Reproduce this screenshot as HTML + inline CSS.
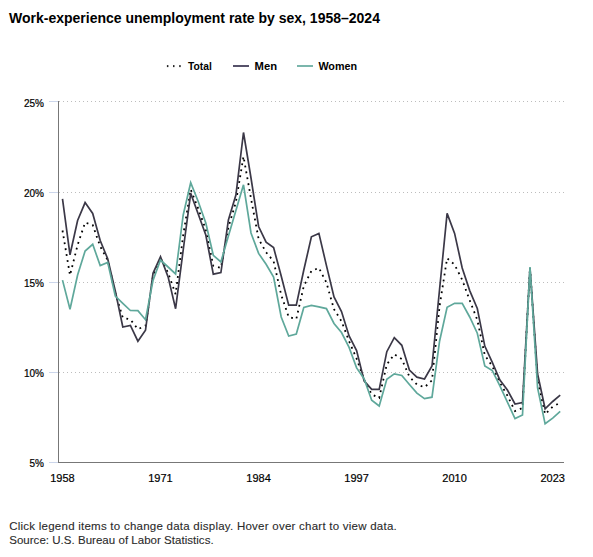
<!DOCTYPE html>
<html><head><meta charset="utf-8"><style>
html,body{margin:0;padding:0;background:#fff;width:593px;height:557px;overflow:hidden}
svg{position:absolute;left:0;top:0}
text{font-family:"Liberation Sans",sans-serif}
.yl{font-size:10px;fill:#000;stroke:#000;stroke-width:0.2}
.xl{font-size:11px;fill:#000;stroke:#000;stroke-width:0.2}
.lg{font-size:11px;font-weight:bold;fill:#000}
.ft{font-size:11.5px;fill:#2a2a2a;stroke:#2a2a2a;stroke-width:0.1}
</style></head><body>
<svg width="593" height="557" viewBox="0 0 593 557">
<text x="9" y="23" style="font-size:14px;font-weight:bold" fill="#000">Work-experience unemployment rate by sex, 1958–2024</text>
<rect x="166.9" y="65.1" width="1.5" height="2" fill="#222"/><rect x="173" y="65.1" width="1.5" height="2" fill="#222"/><rect x="179.2" y="65.1" width="1.5" height="2" fill="#222"/>
<text x="188" y="70" class="lg" textLength="23.8" lengthAdjust="spacingAndGlyphs">Total</text>
<line x1="233" y1="66" x2="249" y2="66" stroke="#56526a" stroke-width="2"/>
<text x="254.6" y="70" class="lg" textLength="22.5" lengthAdjust="spacingAndGlyphs">Men</text>
<line x1="297" y1="66" x2="313" y2="66" stroke="#7bb6ac" stroke-width="2"/>
<text x="318.4" y="70" class="lg" textLength="38.7" lengthAdjust="spacingAndGlyphs">Women</text>
<line x1="59" y1="101.5" x2="564" y2="101.5" stroke="#bdbdbd" stroke-width="1" stroke-dasharray="1,3"/>
<line x1="49" y1="101.5" x2="58" y2="101.5" stroke="#ccd6eb" stroke-width="1"/>
<text x="44" y="106.5" text-anchor="end" class="yl">25%</text>
<line x1="59" y1="192.5" x2="564" y2="192.5" stroke="#bdbdbd" stroke-width="1" stroke-dasharray="1,3"/>
<line x1="49" y1="192.5" x2="58" y2="192.5" stroke="#ccd6eb" stroke-width="1"/>
<text x="44" y="196.5" text-anchor="end" class="yl">20%</text>
<line x1="59" y1="282.5" x2="564" y2="282.5" stroke="#bdbdbd" stroke-width="1" stroke-dasharray="1,3"/>
<line x1="49" y1="282.5" x2="58" y2="282.5" stroke="#ccd6eb" stroke-width="1"/>
<text x="44" y="286.5" text-anchor="end" class="yl">15%</text>
<line x1="59" y1="372.5" x2="564" y2="372.5" stroke="#bdbdbd" stroke-width="1" stroke-dasharray="1,3"/>
<line x1="49" y1="372.5" x2="58" y2="372.5" stroke="#ccd6eb" stroke-width="1"/>
<text x="44" y="376.5" text-anchor="end" class="yl">10%</text>
<line x1="49" y1="462.5" x2="58" y2="462.5" stroke="#ccd6eb" stroke-width="1"/>
<text x="44" y="466.5" text-anchor="end" class="yl">5%</text>

<line x1="58.5" y1="101" x2="58.5" y2="463" stroke="#777" stroke-width="1"/>
<line x1="58" y1="462.5" x2="564" y2="462.5" stroke="#777" stroke-width="1"/>
<text x="62.5" y="481.5" text-anchor="middle" class="xl">1958</text>
<text x="160.5" y="481.5" text-anchor="middle" class="xl">1971</text>
<text x="258.6" y="481.5" text-anchor="middle" class="xl">1984</text>
<text x="356.6" y="481.5" text-anchor="middle" class="xl">1997</text>
<text x="454.6" y="481.5" text-anchor="middle" class="xl">2010</text>
<text x="552.7" y="481.5" text-anchor="middle" class="xl">2023</text>

<polyline fill="none" stroke="#000" stroke-width="1.8" stroke-dasharray="1.8,4.2" points="62.5,230.5 70.0,275.3 77.6,245.0 85.1,222.5 92.7,225.0 100.2,246.4 107.7,260.2 115.3,292.9 122.8,317.8 130.4,319.5 137.9,329.1 145.5,326.0 153.0,276.2 160.5,258.1 168.1,272.8 175.6,294.1 183.2,235.1 190.7,189.5 198.2,208.6 205.8,229.7 213.3,265.8 220.9,267.9 228.4,227.2 235.9,202.1 243.5,156.5 251.0,198.5 258.6,238.9 266.1,252.3 273.6,261.2 281.2,294.9 288.7,317.0 296.3,319.0 303.8,286.0 311.4,271.0 318.9,267.9 326.4,282.6 334.0,309.2 341.5,321.2 349.1,341.2 356.6,358.6 364.1,379.8 371.7,394.4 379.2,398.0 386.8,364.4 394.3,354.3 401.8,359.1 409.4,376.7 416.9,384.5 424.5,387.3 432.0,380.4 439.6,306.0 447.1,258.2 454.6,264.7 462.2,279.8 469.7,300.3 477.3,319.9 484.8,355.2 492.3,366.2 499.9,382.7 507.4,395.6 515.0,411.0 522.5,408.0 530.0,267.5 537.6,380.4 545.1,414.2 552.7,406.6 560.2,402.8"/>
<polyline fill="none" stroke="#3b3847" stroke-width="1.7" stroke-linejoin="miter" points="62.5,198.9 70.0,254.8 77.6,220.5 85.1,202.6 92.7,213.4 100.2,240.5 107.7,258.8 115.3,291.0 122.8,327.0 130.4,325.4 137.9,341.2 145.5,330.3 153.0,273.3 160.5,256.8 168.1,276.9 175.6,308.7 183.2,250.0 190.7,193.4 198.2,214.0 205.8,235.0 213.3,274.2 220.9,272.6 228.4,220.0 235.9,195.0 243.5,132.5 251.0,178.0 258.6,226.5 266.1,242.2 273.6,247.6 281.2,276.0 288.7,305.2 296.3,305.2 303.8,270.0 311.4,236.8 318.9,233.4 326.4,265.4 334.0,297.0 341.5,311.5 349.1,336.0 356.6,350.6 364.1,380.8 371.7,389.4 379.2,389.4 386.8,351.7 394.3,337.7 401.8,345.3 409.4,370.0 416.9,377.2 424.5,379.0 432.0,366.0 439.6,289.0 447.1,213.4 454.6,233.4 462.2,267.9 469.7,290.6 477.3,308.5 484.8,346.1 492.3,362.4 499.9,380.0 507.4,390.0 515.0,404.0 522.5,402.5 530.0,268.0 537.6,374.0 545.1,408.8 552.7,401.5 560.2,395.2"/>
<polyline fill="none" stroke="#5fa89b" stroke-width="1.7" stroke-linejoin="miter" points="62.5,280.1 70.0,309.2 77.6,275.0 85.1,251.0 92.7,244.3 100.2,265.6 107.7,262.4 115.3,296.0 122.8,303.3 130.4,310.5 137.9,310.7 145.5,319.7 153.0,280.5 160.5,260.0 168.1,267.0 175.6,273.9 183.2,215.0 190.7,182.7 198.2,201.5 205.8,223.0 213.3,255.3 220.9,262.0 228.4,236.0 235.9,210.5 243.5,184.8 251.0,233.0 258.6,253.4 266.1,264.2 273.6,277.1 281.2,317.0 288.7,336.0 296.3,334.0 303.8,307.4 311.4,305.4 318.9,306.8 326.4,308.6 334.0,323.5 341.5,332.5 349.1,347.4 356.6,367.9 364.1,378.7 371.7,400.2 379.2,406.0 386.8,379.3 394.3,373.9 401.8,375.4 409.4,384.5 416.9,393.1 424.5,398.7 432.0,397.2 439.6,341.0 447.1,307.2 454.6,303.3 462.2,303.3 469.7,317.0 477.3,333.2 484.8,365.9 492.3,370.6 499.9,385.8 507.4,402.1 515.0,418.5 522.5,415.0 530.0,267.0 537.6,388.0 545.1,423.8 552.7,418.1 560.2,411.4"/>
<text x="9.2" y="529.8" class="ft" textLength="387.6" lengthAdjust="spacing">Click legend items to change data display. Hover over chart to view data.</text>
<text x="9.2" y="543.8" class="ft" textLength="204.4" lengthAdjust="spacing">Source: U.S. Bureau of Labor Statistics.</text>
</svg>
</body></html>
